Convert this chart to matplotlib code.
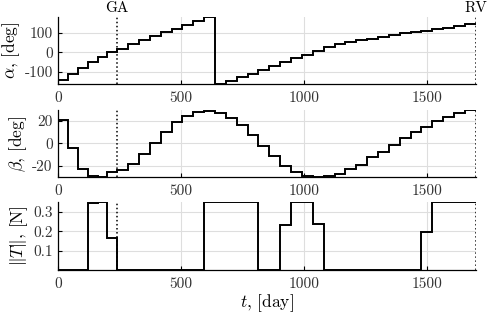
import matplotlib.pyplot as plt

plt.rcParams['font.family'] = 'cmr10'
plt.rcParams['mathtext.fontset'] = 'cm'
plt.rcParams['axes.unicode_minus'] = False

# segment edges in days (6 legs of 40 d before GA, 33 of ~44 d after)
edges = [0, 40, 80, 120, 160, 200, 240,
         284, 328, 373, 417, 461, 505, 550, 594, 638, 682,
         727, 771, 815, 859, 904, 948, 992, 1036, 1081, 1125,
         1169, 1213, 1258, 1302, 1346, 1390, 1435, 1479, 1523, 1567,
         1612, 1656, 1700]

alpha = [-141, -110, -81, -51, -25, 0,
         17, 42, 63, 85, 102, 119, 139, 159, 178, -163,
         -146, -127, -110, -90, -69, -49, -27, -14, 8, 25,
         42, 51, 63, 69, 78, 88, 97, 103, 110, 117,
         125, 134, 142]

beta = [21, -4.4, -22.8, -28.7, -29.6, -25.2,
        -23.7, -18, -9.8, 0, 10.4, 18.7, 24.6, 28.1, 29, 27.3,
        22.8, 16.3, 7.4, -2, -11.3, -19.6, -25.2, -28.7, -30, -28.7,
        -27, -22.8, -18.7, -12.4, -7.4, -1.5, 4.4, 9.8, 14.8, 19.9,
        23.7, 27.3, 29.6]

thrust = [0, 0, 0, 0.348, 0.353, 0.164,
          0, 0, 0, 0, 0, 0, 0, 0, 0.353, 0.353,
          0.353, 0.353, 0.353, 0, 0, 0.233, 0.353, 0.353, 0.24, 0,
          0, 0, 0, 0, 0, 0, 0, 0, 0.195, 0.353,
          0.353, 0.353, 0.353]

t_ga = 240
t_rv = 1700

series = [alpha, beta, thrust]
ylabels = [r'$\alpha$, [deg]', r'$\beta$, [deg]', r'$\Vert T\Vert$, [N]']
yticks = [[-100, 0, 100], [-20, 0, 20], [0.1, 0.2, 0.3]]
boxes = [[0.1195, 0.7349, 0.8553, 0.2107],
         [0.1195, 0.4425, 0.8553, 0.2116],
         [0.1195, 0.1509, 0.8553, 0.2148]]

fig = plt.figure(figsize=(4.88, 3.18), dpi=100)

for i in range(3):
    ax = fig.add_axes(boxes[i])
    y = series[i]
    ax.stairs(y, edges, baseline=None, color='k', lw=1.4, zorder=3)
    lo, hi = min(y), max(y)
    ax.set_xlim(0, 1700)
    ax.set_ylim(lo, hi)
    ax.plot([t_ga, t_ga], [lo, hi], ':', color='k', lw=1.1, zorder=4)
    ax.plot([t_rv, t_rv], [lo, hi], ':', color='k', lw=1.1, zorder=4)
    ax.set_xticks([0, 500, 1000, 1500])
    ax.set_yticks(yticks[i])
    ax.grid(True, color='#dedede', lw=0.8, zorder=0)
    ax.set_axisbelow(True)
    ax.tick_params(direction='in', length=3, width=0.8, labelsize=11,
                   labelcolor='#333333', pad=4)
    ax.tick_params(axis='x', pad=5)
    for s in ['top', 'right']:
        ax.spines[s].set_visible(False)
    for s in ['left', 'bottom']:
        ax.spines[s].set_linewidth(0.9)
    ax.set_ylabel(ylabels[i], fontsize=12.5, labelpad=2)
    if i == 0:
        tr = ax.get_xaxis_transform()
        ax.text(t_ga, 1.08, 'GA', transform=tr, ha='center', va='baseline', fontsize=11)
        ax.text(t_rv, 1.08, 'RV', transform=tr, ha='center', va='baseline', fontsize=11)
    if i == 2:
        ax.set_xlabel(r'$t$, [day]', fontsize=12.5, labelpad=1)

fig.savefig('out.png', dpi=100)
